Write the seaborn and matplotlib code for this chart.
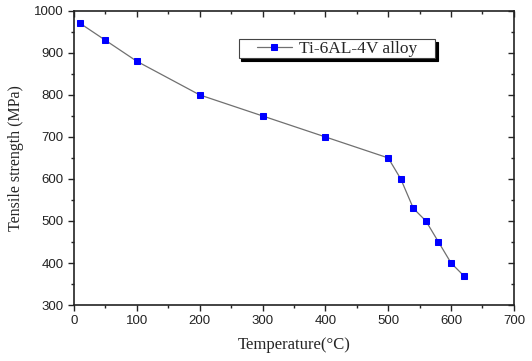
import pandas as pd
import seaborn as sns
import matplotlib.pyplot as plt
from matplotlib.path import Path
from matplotlib.ticker import MultipleLocator

# Tensile strength of Ti-6AL-4V vs temperature
temperature = [10, 50, 100, 200, 300, 400, 500, 520, 540, 560, 580, 600, 620]
strength = [970, 930, 880, 800, 750, 700, 650, 600, 530, 500, 450, 400, 370]
series_name = "Ti-6AL-4V alloy"

df = pd.DataFrame({"Temperature": temperature, "Strength": strength})

sns.set_style("ticks")
plt.rcParams["font.family"] = ["Liberation Sans", "DejaVu Sans"]

fig = plt.figure(figsize=(5.32, 3.61), dpi=100)
ax = fig.add_axes([0.139, 0.155, 0.827, 0.815])

sns.lineplot(data=df, x="Temperature", y="Strength", ax=ax, color="#707070",
             linewidth=0.9, marker="s", markersize=5, markerfacecolor="#0000ff",
             markeredgecolor="#0000ff", label=series_name)

ax.set_xlim(0, 700)
ax.set_ylim(300, 1000)
ax.xaxis.set_major_locator(MultipleLocator(100))
ax.xaxis.set_minor_locator(MultipleLocator(50))
ax.yaxis.set_major_locator(MultipleLocator(100))
ax.yaxis.set_minor_locator(MultipleLocator(50))

for s in ax.spines.values():
    s.set_visible(True)
    s.set_linewidth(1.2)
    s.set_color("#222222")

ax.tick_params(which="both", direction="out", top=False, right=False,
               labelsize=9.5, colors="#222222", width=1.0)
ax.tick_params(which="major", length=4)
ax.tick_params(which="minor", length=2.5)

# inward ticks on top and right, as in the original
sec_x = ax.secondary_xaxis("top")
sec_x.xaxis.set_major_locator(MultipleLocator(100))
sec_x.xaxis.set_minor_locator(MultipleLocator(50))
sec_x.tick_params(which="both", direction="in", labeltop=False, width=1.0)
sec_x.tick_params(which="major", length=4)
sec_x.tick_params(which="minor", length=2.5)
sec_x.spines["top"].set_visible(False)
sec_y = ax.secondary_yaxis("right")
sec_y.yaxis.set_major_locator(MultipleLocator(100))
sec_y.yaxis.set_minor_locator(MultipleLocator(50))
sec_y.tick_params(which="both", direction="in", labelright=False, width=1.0)
sec_y.tick_params(which="major", length=4)
sec_y.tick_params(which="minor", length=2.5)
sec_y.spines["right"].set_visible(False)

ax.set_xlabel("Temperature(\u00b0C)", family="Liberation Serif", fontsize=12, labelpad=7)
ax.set_ylabel("Tensile strength (MPa)", family="Liberation Serif", fontsize=11.5, labelpad=7)


# legend frame: extra room left and right only
def wide_box(x0, y0, width, height, mutation_size):
    px = 0.95 * mutation_size
    x0, x1 = x0 - px, x0 + width + px
    y1 = y0 + height
    return Path([(x0, y0), (x1, y0), (x1, y1), (x0, y1), (x0, y0)], closed=True)


leg = ax.legend(loc="upper left", bbox_to_anchor=(0.412, 0.905), frameon=True,
                fancybox=False, shadow={"color": "black", "alpha": 1},
                prop={"family": "Liberation Serif", "size": 12.5},
                borderpad=0.1, borderaxespad=0, handlelength=2.0,
                handletextpad=0.4, markerscale=0.75)
leg.get_frame().set_boxstyle(wide_box)
leg.get_frame().set_edgecolor("#444444")
leg.get_frame().set_linewidth(0.8)
leg.get_frame().set_alpha(1)

fig.savefig("out.png", dpi=100)
